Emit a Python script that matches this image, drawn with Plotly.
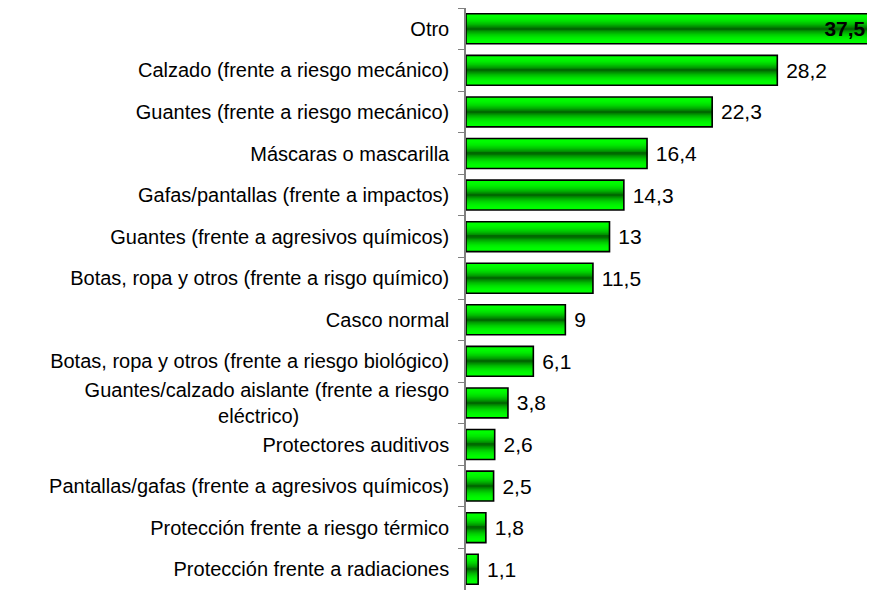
import plotly.graph_objects as go

categories = [
    "Otro",
    "Calzado (frente a riesgo mecánico)",
    "Guantes (frente a riesgo mecánico)",
    "Máscaras o mascarilla",
    "Gafas/pantallas (frente a impactos)",
    "Guantes (frente a agresivos químicos)",
    "Botas, ropa y otros (frente a risgo químico)",
    "Casco normal",
    "Botas, ropa y otros (frente a riesgo biológico)",
    "Guantes/calzado aislante (frente a riesgo eléctrico)",
    "Protectores auditivos",
    "Pantallas/gafas (frente a agresivos químicos)",
    "Protección frente a riesgo térmico",
    "Protección frente a radiaciones",
]
values = [37.5, 28.2, 22.3, 16.4, 14.3, 13, 11.5, 9, 6.1, 3.8, 2.6, 2.5, 1.8, 1.1]

NB = "\u00a0"
tick_text = []
for c in categories:
    if c.startswith("Guantes/calzado aislante"):
        tick_text.append("Guantes/calzado aislante (frente a riesgo<br>eléctrico)" + NB * 27)
    else:
        tick_text.append(c)

value_text = []
positions = []
for i, v in enumerate(values):
    s = f"{v:g}".replace(".", ",")
    if i == 0:
        value_text.append(f"<b>{s}</b>" + NB * 2)
        positions.append("inside")
    else:
        value_text.append(NB + s)
        positions.append("outside")

fig = go.Figure()

bar_w = 0.72
n_layers = 20
edge = (0, 255, 0)
center = (0, 105, 0)
for i in range(n_layers):
    f = 1 - i / n_layers
    t = (i / (n_layers - 1)) ** 2.2
    col = tuple(int(round(edge[k] + (center[k] - edge[k]) * t)) for k in range(3))
    fig.add_trace(go.Bar(
        y=categories, x=values, orientation="h", width=bar_w * f,
        marker=dict(color=f"rgb{col}", line=dict(width=0)),
        hoverinfo="skip", showlegend=False,
    ))

fig.add_trace(go.Bar(
    y=categories, x=values, orientation="h", width=bar_w,
    marker=dict(color="rgba(0,0,0,0)", line=dict(color="black", width=1.6)),
    text=value_text, textposition=positions, insidetextanchor="end",
    insidetextfont=dict(color="black", size=21, family="Liberation Sans, Arial"),
    outsidetextfont=dict(color="black", size=21, family="Liberation Sans, Arial"),
    constraintext="none",
    showlegend=False,
))

fig.update_layout(
    width=867, height=582,
    barmode="overlay",
    margin=dict(l=458, r=0, t=0, b=0, autoexpand=False),
    paper_bgcolor="white", plot_bgcolor="white",
    font=dict(family="Liberation Sans, Arial", size=20, color="black"),
    xaxis=dict(visible=False, range=[0, 37.05], automargin=False),
    yaxis=dict(
        type="category",
        categoryorder="array", categoryarray=categories,
        range=[len(categories) - 0.5, -0.5],
        tickvals=categories, ticktext=tick_text,
        tickson="boundaries", ticks="outside", ticklen=6, tickcolor="#808080", tickwidth=1.2,
        showline=True, linecolor="#808080", linewidth=1.5,
        showgrid=False, zeroline=False, automargin=False,
        ticklabelstandoff=11,
        tickfont=dict(size=20, color="black"),
    ),
)

fig.write_html("out.html")
